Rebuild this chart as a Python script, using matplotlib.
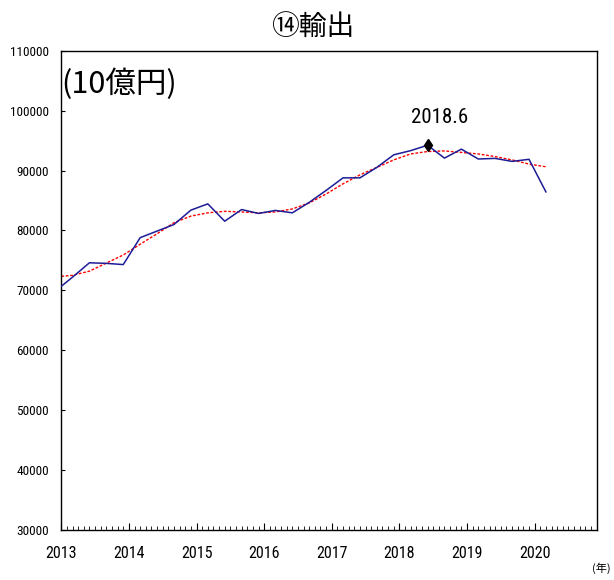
import matplotlib
matplotlib.use("Agg")
import matplotlib.pyplot as plt
from matplotlib import font_manager
import numpy as np

# pick a narrow font for the numbers if one is installed
names = set(f.name for f in font_manager.fontManager.ttflist)
num_font = "DejaVu Sans"
for cand in ["Liberation Sans Narrow", "Roboto Condensed", "Liberation Sans"]:
    if cand in names:
        num_font = cand
        break
jp_font = ["Noto Sans CJK JP", "DejaVu Sans"]

# months counted from Jan 2013 (0 = 2013/1), quarterly data at quarter-end months
exports_month = [-1, 2, 5, 8, 11, 14, 17, 20, 23, 26, 29, 32, 35, 38, 41, 44, 47,
                 50, 53, 56, 59, 62, 65, 68, 71, 74, 77, 80, 83, 86]
exports = [69900, 72200, 74600, 74500, 74300, 78800, 79900, 81000, 83400, 84450,
           81550, 83500, 82850, 83350, 82950, 84700, 86700, 88800, 88800, 90550,
           92650, 93350, 94250, 92100, 93600, 91950, 92050, 91550, 91900, 86450]

trend_month = [0, 2, 5, 8, 11, 14, 17, 20, 23, 26, 29, 32, 35, 38, 41, 44, 47,
               50, 53, 56, 59, 62, 65, 68, 71, 74, 77, 80, 83, 86]
trend = [72330, 72500, 73200, 74550, 75900, 77700, 79450, 81300, 82400, 82950,
         83200, 83100, 82950, 83100, 83600, 84600, 86100, 87800, 89300, 90550,
         91800, 92800, 93200, 93300, 93050, 92800, 92350, 91800, 91100, 90650]

peak_month = 65
peak_value = 94250
peak_label = "2018.6"

years = [2013, 2014, 2015, 2016, 2017, 2018, 2019, 2020]
yticks = [30000, 40000, 50000, 60000, 70000, 80000, 90000, 100000, 110000]

fig = plt.figure(figsize=(6.14, 5.8), dpi=100)
ax = fig.add_axes([0.0998, 0.087, 0.8719, 0.825])

ax.plot(trend_month, trend, color="red", lw=1.0, ls=(0, (2, 1.2)), zorder=2)
ax.plot(exports_month, exports, color="#1c1c96", lw=1.1, zorder=3)
ax.plot([peak_month], [peak_value], marker="d", color="black", ms=6, zorder=4)
ax.annotate(peak_label, (peak_month, peak_value), xytext=(9, 20),
            textcoords="offset points", ha="center", va="center",
            fontsize=15, family=num_font)

ax.set_xlim(0, 95)
ax.set_ylim(30000, 110000)

ax.set_xticks([(y - 2013) * 12 for y in years])
ax.set_xticklabels([str(y) for y in years], family=num_font, fontsize=11.5)
ax.set_xticks(np.arange(0, 96), minor=True)
ax.tick_params(axis="x", which="major", direction="in", length=5, width=0.8, pad=12)
ax.tick_params(axis="x", which="minor", direction="in", length=3, width=0.6)

ax.set_yticks(yticks)
ax.set_yticklabels([str(v) for v in yticks], family=num_font, fontsize=9.5)
ax.tick_params(axis="y", direction="in", length=3, width=0.8, pad=9)

for s in ax.spines.values():
    s.set_linewidth(1.0)

ax.text(0.0, 0.93, "(10億円)", transform=ax.transAxes, ha="left", va="center",
        fontsize=22, family=jp_font)
fig.text(0.51, 0.952, "⑭輸出", ha="center", va="center", fontsize=20, family=jp_font)
fig.text(0.98, 0.02, "(年)", ha="center", va="center", fontsize=8, family=jp_font)

fig.savefig("out.png", dpi=100)
